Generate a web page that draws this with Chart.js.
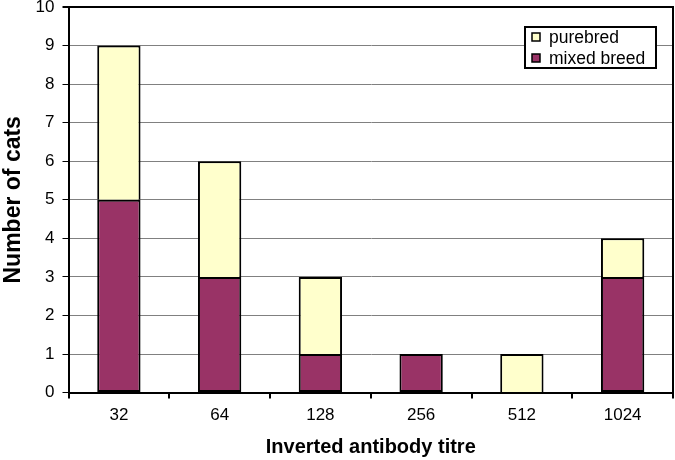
<!DOCTYPE html>
<html lang="en">
  <head>
    <meta charset="UTF-8" />
    <title>Antibody titre</title>
    <script src="https://cdn.jsdelivr.net/npm/chart.js"></script>
    <style>
      body {
        margin: 0;
        background: #ffffff;
      }
      .wrap {
        width: 675px;
        height: 460px;
      }
    </style>
  </head>
  <body>
    <div class="wrap">
      <canvas id="titreChart"></canvas>
    </div>

    <script>
      const titres = ['32', '64', '128', '256', '512', '1024'];
      const mixedBreed = [5, 3, 1, 1, 0, 3];
      const purebred = [4, 3, 2, 0, 1, 1];

      const font = 'Arial, "Liberation Sans", sans-serif';

      // legend drawn by hand so it gets a white box over the grid lines
      const boxLegend = {
        id: 'boxLegend',
        afterDatasetsDraw(chart) {
          const ctx = chart.ctx;
          const x = 525, y = 27, w = 131, h = 41;
          ctx.save();
          ctx.fillStyle = '#fff';
          ctx.fillRect(x, y, w, h);
          ctx.strokeStyle = '#000';
          ctx.lineWidth = 2;
          ctx.strokeRect(x, y, w, h);
          const items = chart.data.datasets.slice().reverse();
          ctx.font = '17.5px ' + font;
          ctx.textBaseline = 'middle';
          items.forEach((ds, i) => {
            const cy = y + 10 + i * 21;
            ctx.fillStyle = ds.backgroundColor;
            ctx.fillRect(x + 7, cy - 4, 8, 8);
            ctx.lineWidth = 1.5;
            ctx.strokeRect(x + 7, cy - 4, 8, 8);
            ctx.fillStyle = '#000';
            ctx.fillText(ds.label, x + 24, cy + 1);
          });
          ctx.restore();
        }
      };

      // empty segments get no outline
      const edge = c => (c.raw ? 2 : 0);

      const ctx = document.getElementById('titreChart').getContext('2d');
      new Chart(ctx, {
        type: 'bar',
        data: {
          labels: titres,
          datasets: [
            {
              label: 'mixed breed',
              data: mixedBreed,
              backgroundColor: '#993366',
              borderColor: '#000',
              borderWidth: edge,
              borderSkipped: false
            },
            {
              label: 'purebred',
              data: purebred,
              backgroundColor: '#ffffcc',
              borderColor: '#000',
              borderWidth: edge,
              borderSkipped: 'bottom'
            }
          ]
        },
        options: {
          responsive: true,
          maintainAspectRatio: false,
          animation: false,
          layout: { padding: { top: 7, right: 1, left: 0, bottom: 0 } },
          datasets: {
            bar: { categoryPercentage: 1, barPercentage: 0.43 }
          },
          plugins: {
            legend: { display: false },
            tooltip: { enabled: false }
          },
          scales: {
            x: {
              stacked: true,
              grid: {
                offset: true,
                drawOnChartArea: false,
                color: '#000',
                lineWidth: 2,
                tickLength: 6
              },
              border: { color: '#000', width: 2 },
              ticks: {
                color: '#000',
                padding: 7,
                font: { family: font, size: 17 }
              },
              title: {
                display: true,
                text: 'Inverted antibody titre',
                color: '#000',
                padding: { top: 2, bottom: 1 },
                font: { family: font, size: 20, weight: 'bold' }
              }
            },
            y: {
              stacked: true,
              min: 0,
              max: 10,
              // let the "10" label poke above the plot like the original
              afterFit: s => { s.paddingTop = 7; },
              grid: {
                color: c => (c.tick && c.tick.value === 10 ? '#000' : '#808080'),
                lineWidth: c => (c.tick && c.tick.value === 10 ? 2 : 1),
                tickColor: '#000',
                tickLength: 6
              },
              border: { color: '#000', width: 2 },
              ticks: {
                stepSize: 1,
                color: '#000',
                padding: 8,
                font: { family: font, size: 17 }
              },
              title: {
                display: true,
                text: 'Number of cats',
                color: '#000',
                padding: { top: 0, bottom: 0 },
                font: { family: font, size: 23, weight: 'bold' }
              }
            },
            // only here to draw the right-hand edge of the plot
            y2: {
              position: 'right',
              min: 0,
              max: 10,
              afterFit: s => { s.paddingTop = 7; s.width = 1; },
              grid: { display: false },
              ticks: { display: false },
              border: { color: '#000', width: 2 }
            }
          }
        },
        plugins: [boxLegend]
      });
    </script>
  </body>
</html>
